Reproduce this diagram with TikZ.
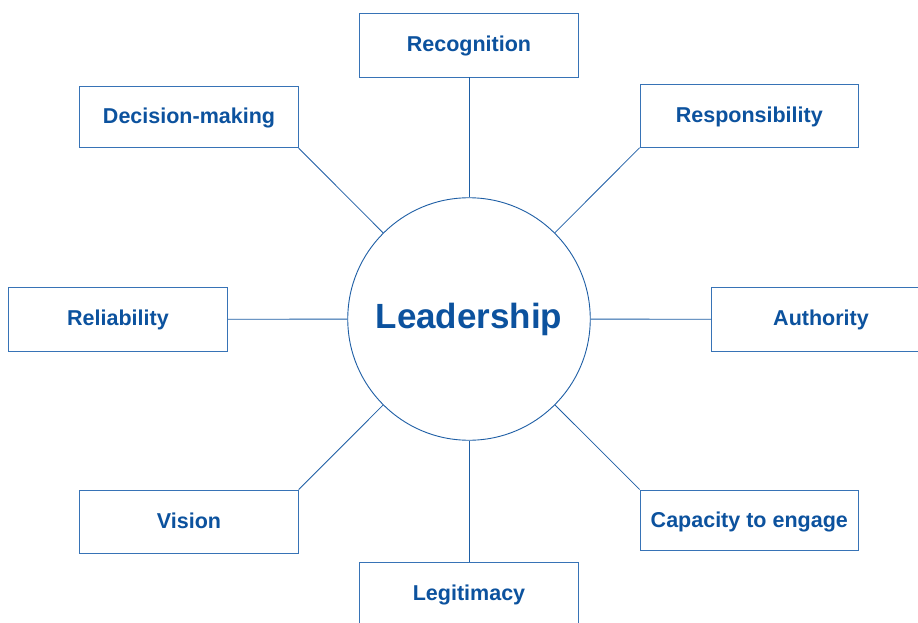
\documentclass[tikz,border=0pt]{standalone}
\usepackage{fontspec}
\setmainfont{Liberation Sans}
\definecolor{txtblue}{RGB}{12,82,158}
\definecolor{lineblue}{RGB}{30,94,165}
\definecolor{boxblue}{RGB}{55,115,182}
\begin{document}
\begin{tikzpicture}[x=1pt,y=-1pt,
  box/.style={draw=boxblue,line width=0.9pt,rectangle,minimum width=218.5pt,inner sep=0pt,
    text height=15.5pt,text depth=2pt,
    text=txtblue,font=\fontsize{21.5}{24}\selectfont\bfseries},
  link/.style={draw=lineblue,line width=0.8pt}]
\clip (0,0) rectangle (918,623);
\fill[white] (0,0) rectangle (918,623);
\node[draw=lineblue,line width=0.9pt,circle,minimum size=242.5pt,inner sep=0pt,
  text height=25pt,text depth=6pt,
  text=txtblue,font=\fontsize{35}{38}\selectfont\bfseries] (c) at (469,319) {Leadership};
\node[box,minimum height=64pt] (rec) at (469,45) {Recognition};
\node[box,minimum height=61pt] (dm) at (189,117.2) {Decision-making};
\node[box,minimum height=63pt] (resp) at (749.3,115.8) {Responsibility};
\node[box,minimum height=63.7pt,minimum width=219.4pt] (rel) at (118,319.2) {Reliability};
\node[box,minimum height=63.7pt] (auth) at (821,319.2) {Authority};
\node[box,minimum height=63.3pt] (vis) at (189,521.7) {Vision};
\node[box,minimum height=60.7pt] (cap) at (749.3,520.3) {Capacity to engage};
\node[box,minimum height=64pt] (leg) at (469,594) {Legitimacy};
\draw[link] (rec.south) -- (c);
\draw[link] (dm.south east) -- (c);
\draw[link] (resp.south west) -- (c);
\draw[link] (rel.east) -- (c);
\draw[link] (auth.west) -- (c);
\draw[link] (vis.north east) -- (c);
\draw[link] (cap.north west) -- (c);
\draw[link] (leg.north) -- (c);
\end{tikzpicture}
\end{document}
